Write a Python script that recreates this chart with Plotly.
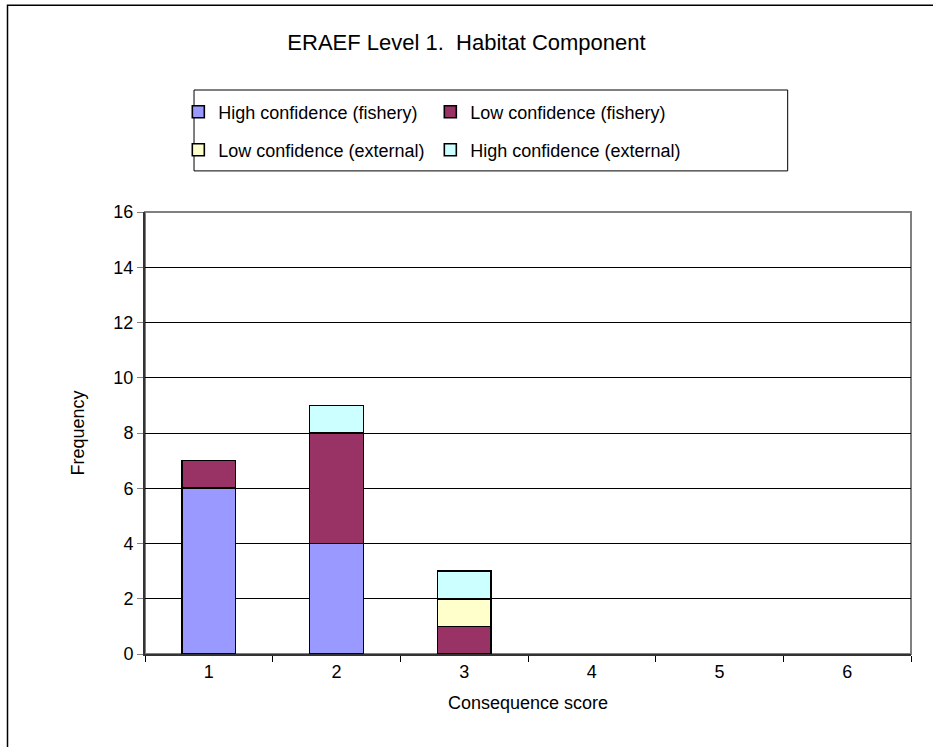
"""ERAEF Level 1 habitat component - stacked consequence score bars."""
import plotly.graph_objects as go

FONT = "Liberation Sans, Arial, sans-serif"

scores = ["1", "2", "3", "4", "5", "6"]
high_fishery = [6, 4, 0, 0, 0, 0]
low_fishery = [1, 4, 1, 0, 0, 0]
low_external = [0, 0, 1, 0, 0, 0]
high_external = [0, 1, 1, 0, 0, 0]

series = [
    ("High confidence (fishery)", high_fishery, "#9999FF", "legend"),
    ("Low confidence (fishery)", low_fishery, "#993366", "legend"),
    ("Low confidence (external)", low_external, "#FFFFCC", "legend2"),
    ("High confidence (external)", high_external, "#CCFFFF", "legend2"),
]

fig = go.Figure()
for name, vals, color, leg in series:
    # zero counts get no segment (avoids stray outlines on the baseline)
    fig.add_trace(go.Bar(
        x=scores, y=[v if v else None for v in vals], name=name, legend=leg,
        marker=dict(color=color, line=dict(color="#000000", width=1.6))))

# plot-area frame (grey top/right like Excel) and outer chart border
fig.add_shape(type="rect", xref="paper", yref="paper", x0=0, x1=1, y0=0, y1=1,
              line=dict(color="#808080", width=2), layer="below")
fig.add_shape(type="rect", xref="paper", yref="paper",
              x0=-0.1795, x1=1.05, y0=-0.3, y1=1.468,
              line=dict(color="#000000", width=1.5))
# legend box
fig.add_shape(type="rect", xref="paper", yref="paper",
              x0=0.064, x1=0.839, y0=1.093, y1=1.276,
              line=dict(color="#000000", width=1))

legend_common = dict(orientation="h", xref="paper", yref="paper", xanchor="left",
                     yanchor="middle", entrywidth=207, entrywidthmode="pixels",
                     bgcolor="rgba(0,0,0,0)", borderwidth=0, traceorder="normal",
                     font=dict(family=FONT, size=18, color="#000000"),
                     itemclick=False)

fig.update_layout(
    width=933, height=747,
    paper_bgcolor="#FFFFFF", plot_bgcolor="#FFFFFF",
    barmode="stack", bargap=0.58,
    margin=dict(l=145, r=22, t=212, b=93),
    font=dict(family=FONT, size=18, color="#000000"),
    title=dict(text="ERAEF Level 1.  Habitat Component", x=0.5, xanchor="center",
               y=1 - 42 / 747, yanchor="middle",
               font=dict(family=FONT, size=22, color="#000000")),
    legend=dict(x=0.0435, y=1.226, **legend_common),
    legend2=dict(x=0.0435, y=1.140, **legend_common),
    xaxis=dict(type="category", tickson="boundaries", ticks="outside", ticklen=6,
               tickcolor="#000000", showline=True, linecolor="#333333", linewidth=2,
               showgrid=False,
               title=dict(text="Consequence score", standoff=16,
                          font=dict(family=FONT, size=18))),
    yaxis=dict(range=[0, 16], dtick=2, ticks="outside", ticklen=6,
               tickcolor="#808080", showline=True, linecolor="#333333", linewidth=2,
               showgrid=True, gridcolor="#000000", gridwidth=1, zeroline=False,
               title=dict(text="Frequency", standoff=24,
                          font=dict(family=FONT, size=18))),
)

# drop the default page margin so the figure sits at the window origin
fig.write_html("out.html", config={"displayModeBar": False},
               post_script="document.body.style.margin='0';")
